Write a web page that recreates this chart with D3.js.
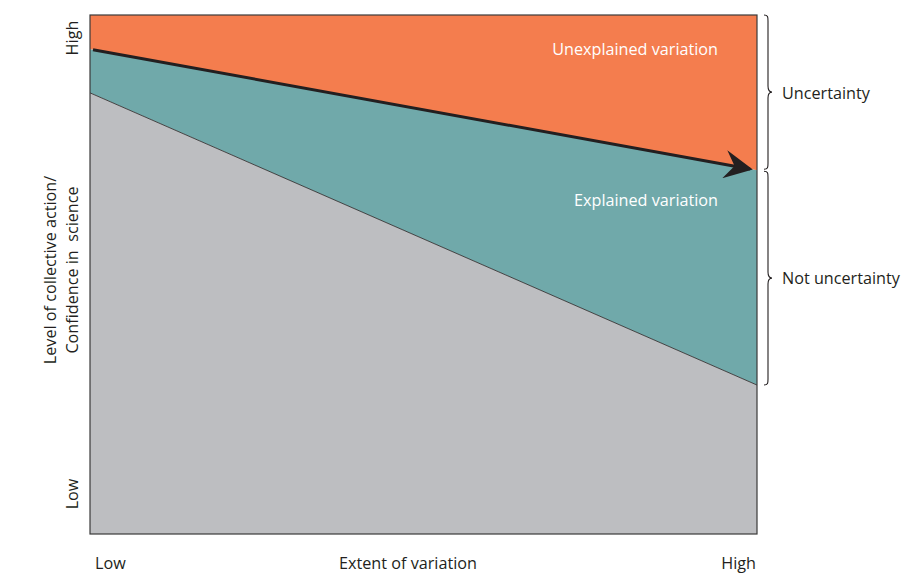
<!DOCTYPE html>
<html><head><meta charset="utf-8">
<script src="https://cdn.jsdelivr.net/npm/d3@7/dist/d3.min.js"></script>
<style>body{margin:0;background:#fff}svg{display:block}text{font-family:"Open Sans",sans-serif;white-space:pre;}</style>
</head><body>
<script>
const xPoints = [0, 1];
const xTickLabels = ["Low", "High"];
const yTickLabels = ["Low", "High"];
const collectiveAction = [0.934, 0.701];   // black arrow line
const explainedFloor = [0.850, 0.287];     // top of grey region
const regionLabels = ["Unexplained variation", "Explained variation"];
const braceLabels = ["Uncertainty", "Not uncertainty"];

const W = 902, H = 575, FS = 16.2;
const svg = d3.select("body").append("svg").attr("width", W).attr("height", H);
const x = d3.scaleLinear().domain([0, 1]).range([90, 757]);
const y = d3.scaleLinear().domain([0, 1]).range([534, 15]);

const data = xPoints.map((v, i) => ({x: v, top: 1, mid: collectiveAction[i], low: explainedFloor[i], bot: 0}));

svg.append("path").datum(data).attr("fill", "#F47D4E")
  .attr("d", d3.area().x(d => x(d.x)).y0(d => y(d.mid)).y1(d => y(d.top)));
svg.append("path").datum(data).attr("fill", "#70A9AA")
  .attr("d", d3.area().x(d => x(d.x)).y0(d => y(d.low)).y1(d => y(d.mid)));
svg.append("path").datum(data).attr("fill", "#BDBEC1")
  .attr("d", d3.area().x(d => x(d.x)).y0(d => y(d.bot)).y1(d => y(d.low)));

svg.append("path").datum(data).attr("fill", "none").attr("stroke", "#231F20").attr("stroke-width", 0.8)
  .attr("d", d3.line().x(d => x(d.x)).y(d => y(d.low)));

svg.append("rect").attr("x", x(0)).attr("y", y(1)).attr("width", x(1) - x(0)).attr("height", y(0) - y(1))
  .attr("fill", "none").attr("stroke", "#3a3a3a").attr("stroke-width", 1.2);

svg.append("defs").append("marker").attr("id", "arr").attr("viewBox", "0 0 10 10")
  .attr("refX", 9).attr("refY", 5).attr("markerWidth", 10.5).attr("markerHeight", 9.5)
  .attr("markerUnits", "strokeWidth").attr("orient", "auto")
  .append("path").attr("d", "M0,0 L10,5 L0,10 L3.5,5 Z").attr("fill", "#231F20");
const x0 = x(0) + 3, x1 = x(1) - 2;
const lineY = v => y(collectiveAction[0] + (collectiveAction[1] - collectiveAction[0]) * (x.invert(v)));
svg.append("line").attr("x1", x0).attr("y1", lineY(x0)).attr("x2", x1 - 5).attr("y2", lineY(x1 - 5))
  .attr("stroke", "#231F20").attr("stroke-width", 3).attr("marker-end", "url(#arr)");

svg.append("text").attr("x", 718).attr("y", 55).attr("text-anchor", "end").attr("fill", "#fff")
  .attr("font-size", FS).text(regionLabels[0]);
svg.append("text").attr("x", 718).attr("y", 206).attr("text-anchor", "end").attr("fill", "#fff")
  .attr("font-size", FS).text(regionLabels[1]);

function brace(y1, y2, bx) {
  const m = (y1 + y2) / 2, w = 4, r = 6;
  return `M${bx},${y1} C${bx + w},${y1} ${bx + w},${y1 + 2} ${bx + w},${y1 + r} L${bx + w},${m - r}` +
    ` C${bx + w},${m - 1} ${bx + w + 2},${m} ${bx + 2 * w},${m} C${bx + w + 2},${m} ${bx + w},${m + 1} ${bx + w},${m + r}` +
    ` L${bx + w},${y2 - r} C${bx + w},${y2 - 2} ${bx + w},${y2} ${bx},${y2}`;
}
const bTop = y(1), bMid = y(collectiveAction[1]), bBot = y(explainedFloor[1]);
svg.append("path").attr("d", brace(bTop, bMid - 1, 764)).attr("fill", "none").attr("stroke", "#231F20").attr("stroke-width", 1.1);
svg.append("path").attr("d", brace(bMid + 1, bBot, 764)).attr("fill", "none").attr("stroke", "#231F20").attr("stroke-width", 1.1);
svg.append("text").attr("x", 782).attr("y", (bTop + bMid) / 2 + 6).attr("font-size", FS).attr("fill", "#231F20").text(braceLabels[0]);
svg.append("text").attr("x", 782).attr("y", (bMid + bBot) / 2 + 6).attr("font-size", FS).attr("fill", "#231F20").text(braceLabels[1]);

svg.append("text").attr("x", x(0) + 5).attr("y", 569).attr("font-size", FS).attr("fill", "#231F20").text(xTickLabels[0]);
svg.append("text").attr("x", x(1) - 1).attr("y", 569).attr("text-anchor", "end").attr("font-size", FS).attr("fill", "#231F20").text(xTickLabels[1]);
svg.append("text").attr("x", 408).attr("y", 569).attr("text-anchor", "middle").attr("font-size", FS).attr("fill", "#231F20").text("Extent of variation");

svg.append("text").attr("transform", `translate(78,${y(0) - 40}) rotate(-90)`).attr("text-anchor", "middle").attr("font-size", FS).attr("fill", "#231F20").text(yTickLabels[0]);
svg.append("text").attr("transform", `translate(78,${y(1) + 23}) rotate(-90)`).attr("text-anchor", "middle").attr("font-size", FS).attr("fill", "#231F20").text(yTickLabels[1]);
const yt = svg.append("text").attr("transform", "translate(56,270) rotate(-90)").attr("text-anchor", "middle").attr("font-size", FS).attr("fill", "#231F20");
yt.append("tspan").attr("x", 0).attr("dy", 0).text("Level of collective action/");
yt.append("tspan").attr("x", 0).attr("dy", 22).text("Confidence in  science");
</script>
</body></html>
